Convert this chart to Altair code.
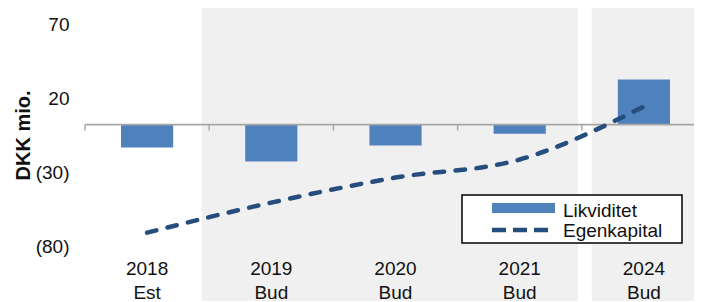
import altair as alt
import pandas as pd

# ---- data ----
categories = ["2018|Est", "2019|Bud", "2020|Bud", "2021|Bud", "2024|Bud"]
likviditet = [-15.5, -25.0, -14.2, -6.1, 30.4]
egenkapital = [-73.0, -52.7, -35.8, -23.6, 12.2]
series = ["Likviditet", "Egenkapital"]
y_ticks = [70, 20, -30, -80]
# shaded background periods, in category units (0 = left edge of first category)
shade_start = [0.94, 4.08]
shade_end = [3.97, 5.6]
boundaries = [0, 1, 2, 3, 4]

BAR = "#4f81bd"
LINE = "#254e7f"
SHADE = "#f0f0f0"
AXIS = "#a6a6a6"
TXT = "#111111"
FONT = "Liberation Sans"
W, H = 609, 222
RANGE = [0, 621]

df = pd.DataFrame({"cat": categories, "likv": likviditet, "egen": egenkapital})
shade_df = pd.DataFrame({"s": shade_start, "e": shade_end})
zero_df = pd.DataFrame({"x0": [0], "x1": [5], "y0": [0]})
tick_df = pd.DataFrame({"b": boundaries, "y0": [0] * len(boundaries), "y1": [-4] * len(boundaries)})
one = pd.DataFrame({"k": [0]})

yscale = alt.Scale(domain=[-80, 70], nice=False, zero=False)
qx = alt.Scale(domain=[0, 5], range=RANGE, nice=False, zero=False)


def yaxis():
    return alt.Axis(
        values=y_ticks,
        labelExpr="datum.value < 0 ? '(' + abs(datum.value) + ')' : '' + datum.value",
        grid=False, domain=False, ticks=False, labelPadding=16,
        labelFontSize=19, labelFont=FONT, labelColor=TXT, labelOffset=3,
        title="DKK mio.", titleFont=FONT, titleFontSize=20, titleFontWeight="bold",
        titleColor=TXT, titleAngle=270, titleX=-62, titleY=114,
        titleAlign="center", titleBaseline="middle", zindex=1,
    )


shade = alt.Chart(shade_df).mark_rect(color=SHADE).encode(
    x=alt.X("s:Q", scale=qx, axis=None),
    x2="e:Q",
    y=alt.value(-14),
    y2=alt.value(H + 70),
)

bars = alt.Chart(df).mark_bar(color=BAR).encode(
    x=alt.X(
        "cat:N",
        sort=categories,
        scale=alt.Scale(type="band", domain=categories, range=RANGE,
                        paddingInner=0.58, paddingOuter=0.29),
        axis=alt.Axis(
            title=None, labelExpr="split(datum.label, '|')", labelAngle=0,
            domain=False, ticks=False, labelPadding=16, labelFontSize=19,
            labelFont=FONT, labelColor=TXT, labelLineHeight=24,
            labelBaseline="top", zindex=1,
        ),
    ),
    y=alt.Y("likv:Q", scale=yscale, axis=yaxis(), title="DKK mio."),
    y2=alt.datum(0),
)

zero_line = alt.Chart(zero_df).mark_rule(color=AXIS, strokeWidth=1.6).encode(
    x=alt.X("x0:Q", scale=qx, axis=None),
    x2="x1:Q",
    y=alt.Y("y0:Q", scale=yscale, axis=yaxis(), title="DKK mio."),
)

ticks = alt.Chart(tick_df).mark_rule(color=AXIS, strokeWidth=1.4).encode(
    x=alt.X("b:Q", scale=qx, axis=None),
    y=alt.Y("y0:Q", scale=yscale, axis=yaxis(), title="DKK mio."),
    y2="y1:Q",
)

line = alt.Chart(df).mark_line(
    color=LINE, strokeWidth=4.5, strokeDash=[9.5, 11.5], strokeCap="round",
    interpolate="monotone",
).encode(
    x=alt.X("cat:N", sort=categories,
            scale=alt.Scale(type="point", domain=categories, range=RANGE, padding=0.5),
            axis=None),
    y=alt.Y("egen:Q", scale=yscale, axis=yaxis(), title="DKK mio."),
)

# ---- legend ----
leg_box = alt.Chart(one).mark_rect(fill="white", stroke="#000000", strokeWidth=1.5).encode(
    x=alt.value(377), x2=alt.value(597), y=alt.value(174), y2=alt.value(222)
)
leg_bar = alt.Chart(one).mark_rect(color=BAR).encode(
    x=alt.value(407), x2=alt.value(470), y=alt.value(182), y2=alt.value(192)
)
leg_line = alt.Chart(one).mark_rule(
    color=LINE, strokeWidth=4.5, strokeDash=[14, 7], strokeCap="butt"
).encode(x=alt.value(407), x2=alt.value(470), y=alt.value(209))
leg_t1 = alt.Chart(one).mark_text(
    align="left", baseline="middle", fontSize=19, font=FONT, color=TXT
).encode(x=alt.value(478), y=alt.value(190), text=alt.value(series[0]))
leg_t2 = alt.Chart(one).mark_text(
    align="left", baseline="middle", fontSize=19, font=FONT, color=TXT
).encode(x=alt.value(478), y=alt.value(210), text=alt.value(series[1]))

chart = (
    alt.layer(shade, bars, zero_line, ticks, line, leg_box, leg_bar, leg_line, leg_t1, leg_t2)
    .resolve_scale(x="independent")
    .properties(
        width=W, height=H,
        autosize=alt.AutoSizeParams(type="none"),
        padding={"left": 77, "top": 13, "right": 0, "bottom": 58},
    )
    .configure_view(stroke=None)
)

chart.save("out.html", embed_options={"renderer": "svg", "actions": False})
